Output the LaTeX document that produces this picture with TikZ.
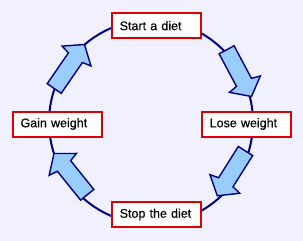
\documentclass[tikz,border=0pt]{standalone}
\usepackage{fontspec}
\setmainfont{Liberation Sans}
\newfontfamily\boxfont{Liberation Sans}[FakeBold=0.35]
\usetikzlibrary{calc}
\definecolor{bg}{RGB}{240,240,255}
\definecolor{navy}{RGB}{0,0,128}
\definecolor{lblue}{RGB}{153,204,255}
\definecolor{boxred}{RGB}{221,0,0}
\tikzset{
  box/.style={draw=boxred, line width=2pt, fill=white, minimum height=25pt,
    text width=73pt, inner xsep=8pt, inner ysep=0pt, align=left,
    font=\boxfont\fontsize{12.5}{15}\selectfont},
  ring/.style={draw=navy, line width=2pt},
  blockarrow/.style={draw=navy, fill=lblue, line width=1.4pt, line join=miter},
}
\newcommand{\blockarr}[2]{%
  \coordinate (J) at ($(#2)!16pt!(#1)$);
  \coordinate (W) at ($(#2)!14pt!(#1)$);
  \draw[blockarrow] ($(#1)!8.5pt!90:(#2)$) -- ($(J)!8.5pt!90:(#2)$) -- ($(W)!17.5pt!90:(#2)$) -- (#2)
    -- ($(W)!17.5pt!-90:(#2)$) -- ($(J)!8.5pt!-90:(#2)$) -- ($(#1)!8.5pt!-90:(#2)$) -- cycle;
}
\begin{document}
\begin{tikzpicture}[x=1pt,y=-1pt]
  \fill[bg] (0,0) rectangle (303,241);
  \useasboundingbox (0,0) rectangle (303,241);
  \coordinate (c) at (151,122);
  \draw[ring] (c) circle[radius=102pt];
  \coordinate (a1s) at (226.6,49.8);  \coordinate (a1e) at (251.5,96.5);
  \coordinate (a2s) at (245.5,151);   \coordinate (a2e) at (217.3,195.8);
  \coordinate (a3s) at (87.2,194.8);  \coordinate (a3e) at (54,153.5);
  \coordinate (a4s) at (54.2,88.5);   \coordinate (a4e) at (84.5,44.5);
  \blockarr{a1s}{a1e}
  \blockarr{a2s}{a2e}
  \blockarr{a3s}{a3e}
  \blockarr{a4s}{a4e}
  \node[box] (start) at (156.2,25.7) {Start a diet};
  \node[box] (lose) at (246.2,124) {Lose weight};
  \node[box] (gain) at (57,124) {Gain weight};
  \node[box] (stop) at (156.2,214.5) {Stop the diet};
\end{tikzpicture}
\end{document}
